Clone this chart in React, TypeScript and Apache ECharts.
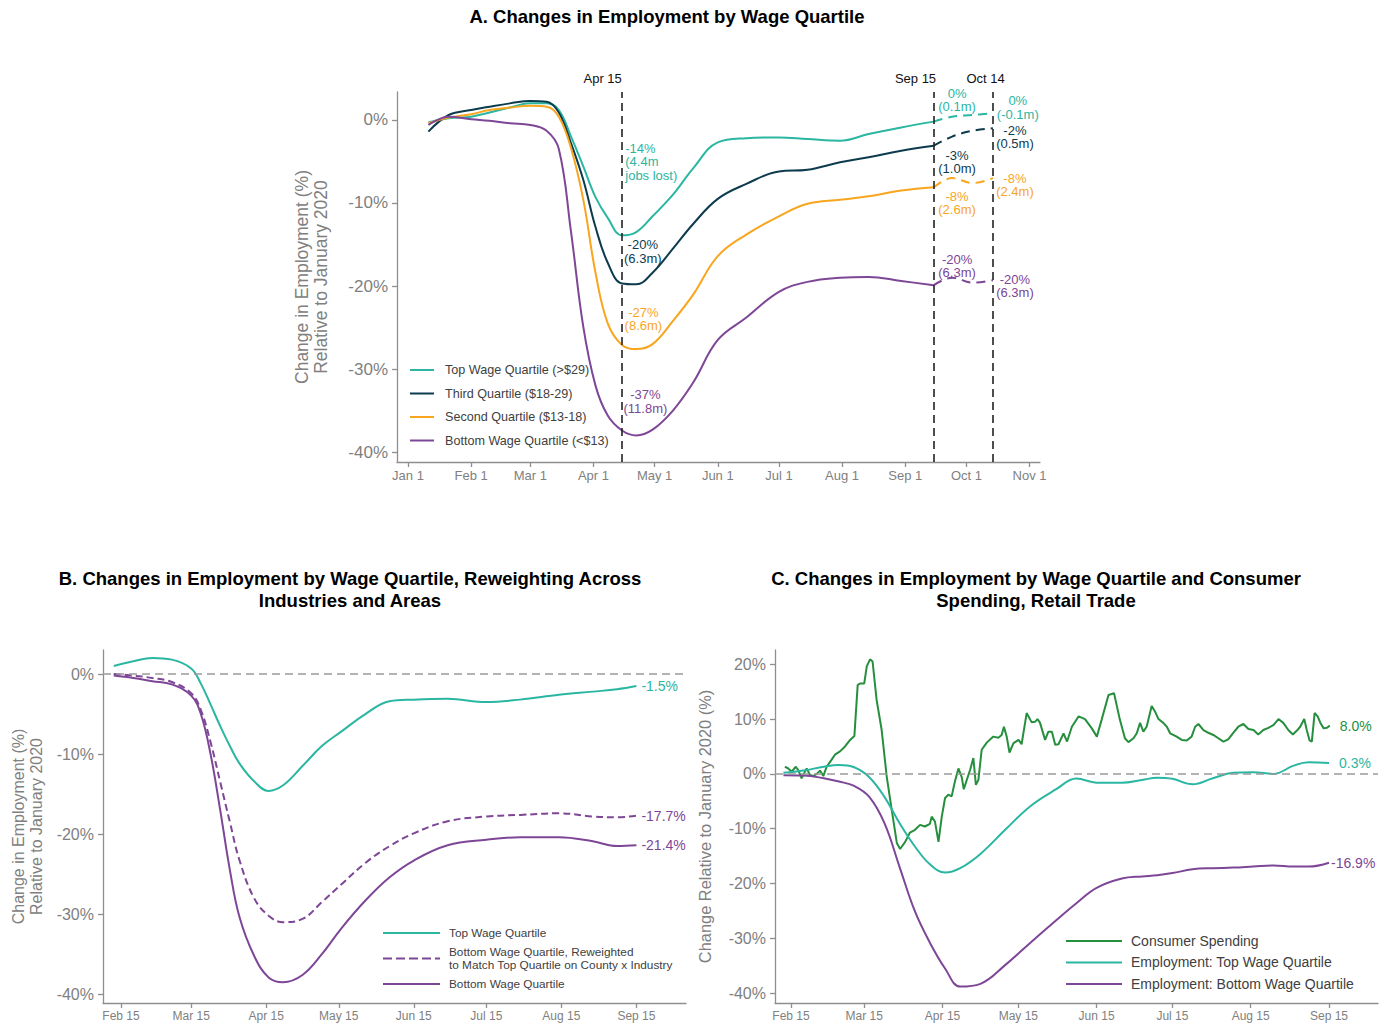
import React, { useEffect, useRef } from "react";
import * as echarts from "echarts";

const FONT = '"Liberation Sans", Arial, Helvetica, sans-serif';
const AXIS_GRAY = "#8f8f8f";
const LABEL_GRAY = "#808080";
const TEAL = "#2bb6a1";
const NAVY = "#0d3b4e";
const ORANGE = "#f9a51e";
const PURPLE = "#7d4696";
const GREEN = "#268f3e";

// ---------- Panel A (days since Jan 1 2020) ----------
const monthTicksA = [0, 31, 60, 91, 121, 152, 182, 213, 244, 274, 305];
const monthLabelsA = ["Jan 1", "Feb 1", "Mar 1", "Apr 1", "May 1", "Jun 1", "Jul 1", "Aug 1", "Sep 1", "Oct 1", "Nov 1"];
const yTicksA = [-40, -30, -20, -10, 0];

const daysA = [10, 20, 31, 40, 50, 60, 68, 74, 80, 86, 92, 98, 105, 112, 120, 130, 140, 152, 166, 182, 196, 212, 226, 242, 258];
const topA = [-0.3, 0.2, 0.4, 0.9, 1.5, 2.0, 2.0, 1.2, -2.0, -5.6, -9.3, -11.8, -13.9, -13.5, -11.6, -9.0, -5.8, -2.7, -2.2, -2.1, -2.3, -2.5, -1.7, -0.9, -0.2];
const thirdA = [-1.4, 0.6, 1.2, 1.6, 2.0, 2.3, 2.2, 0.9, -2.8, -7.2, -12.9, -17.2, -19.7, -19.8, -18.4, -15.5, -12.5, -9.5, -7.7, -6.2, -6.0, -5.1, -4.5, -3.7, -3.1];
const secondA = [-0.4, 0.3, 0.7, 1.2, 1.5, 1.7, 1.6, 0.4, -3.4, -9.6, -18.4, -24.5, -27.1, -27.6, -27.0, -24.2, -21.0, -16.4, -13.8, -11.6, -10.1, -9.6, -9.2, -8.5, -8.1];
const bottomA = [-0.6, 0.4, 0.1, -0.1, -0.4, -0.6, -1.3, -3.5, -13.5, -24.9, -32.0, -35.6, -37.4, -38.0, -37.3, -35.0, -31.6, -26.5, -23.8, -20.7, -19.5, -19.0, -18.9, -19.4, -19.9];

const projDaysA = [258, 267, 277, 287];
const topProjA = [-0.2, 0.4, 0.6, 0.8];
const thirdProjA = [-3.1, -2.0, -1.3, -1.0];
const secondProjA = [-8.1, -7.0, -7.6, -7.0];
const bottomProjA = [-19.9, -19.0, -19.6, -19.3];

const namesA = ["Top Wage Quartile (>$29)", "Third Quartile ($18-29)", "Second Quartile ($13-18)", "Bottom Wage Quartile (<$13)"];

const eventDaysA = [105, 258, 287];
const eventLabelsA = ["Apr 15", "Sep 15", "Oct 14"];
const eventLabelDaysA = [95.5, 249, 283.4];

// annotations: [day, value (top of text), text, color, align]
const annotationsA: [number, number, string, string, string][] = [
  [106.6, -2.65, "-14%\n(4.4m\njobs lost)", TEAL, "left"],
  [115.2, -14.25, "-20%\n(6.3m)", NAVY, "center"],
  [115.5, -22.4, "-27%\n(8.6m)", ORANGE, "center"],
  [116.5, -32.3, "-37%\n(11.8m)", PURPLE, "center"],
  [269.4, 4.0, "0%\n(0.1m)", TEAL, "center"],
  [269.4, -3.43, "-3%\n(1.0m)", NAVY, "center"],
  [269.4, -8.37, "-8%\n(2.6m)", ORANGE, "center"],
  [269.4, -15.96, "-20%\n(6.3m)", PURPLE, "center"],
  [299.2, 3.1, "0%\n(-0.1m)", TEAL, "center"],
  [297.8, -0.42, "-2%\n(0.5m)", NAVY, "center"],
  [297.8, -6.27, "-8%\n(2.4m)", ORANGE, "center"],
  [297.8, -18.4, "-20%\n(6.3m)", PURPLE, "center"],
];

// ---------- Panel B ----------
const midTicks = [45, 74, 105, 135, 166, 196, 227, 258];
const midLabels = ["Feb 15", "Mar 15", "Apr 15", "May 15", "Jun 15", "Jul 15", "Aug 15", "Sep 15"];
const yTicksB = [-40, -30, -20, -10, 0];

const daysB = [42, 50, 58, 66, 74, 78, 82, 86, 90, 94, 100, 106, 112, 120, 128, 136, 146, 156, 166, 180, 196, 210, 226, 240, 250, 258];
const topB = [1.0, 1.6, 2.0, 1.8, 0.7, -1.2, -3.8, -6.5, -9.0, -11.2, -13.4, -14.6, -13.9, -11.5, -9.0, -7.2, -5.0, -3.4, -3.2, -3.1, -3.5, -3.2, -2.6, -2.2, -1.9, -1.5];
const reweightedB = [0.0, -0.2, -0.5, -1.0, -2.4, -4.5, -8.5, -13.5, -18.5, -23.3, -28.0, -30.2, -31.0, -30.6, -28.5, -26.3, -23.6, -21.5, -19.9, -18.4, -17.8, -17.6, -17.4, -17.8, -17.9, -17.7];
const bottomB = [-0.2, -0.5, -0.9, -1.3, -2.7, -5.0, -10.0, -17.0, -24.5, -30.4, -35.2, -37.9, -38.5, -37.6, -35.0, -31.8, -28.3, -25.4, -23.3, -21.4, -20.7, -20.4, -20.4, -20.9, -21.5, -21.4];
const namesB = ["Top Wage Quartile", "Bottom Wage Quartile, Reweighted\nto Match Top Quartile on County x Industry", "Bottom Wage Quartile"];
const endLabelsB = ["-1.5%", "-17.7%", "-21.4%"];

// ---------- Panel C ----------
const yTicksC = [-40, -30, -20, -10, 0, 10, 20];
const daysC = [42, 50, 58, 64, 70, 76, 82, 88, 94, 100, 106, 112, 120, 130, 140, 150, 158, 166, 176, 184, 190, 196, 204, 212, 220, 228, 236, 244, 250, 258];
const topC = [0.2, 0.6, 1.3, 1.6, 1.2, -0.6, -4.2, -9.0, -13.2, -16.5, -18.0, -17.2, -14.6, -10.1, -5.8, -2.8, -0.85, -1.6, -1.6, -1.1, -0.7, -0.9, -1.9, -0.8, 0.2, 0.3, 0.0, 1.5, 2.1, 2.0];
const bottomC = [-0.25, -0.3, -0.8, -1.4, -2.2, -4.2, -9.0, -17.0, -25.0, -30.8, -35.5, -38.8, -38.3, -34.8, -30.7, -26.7, -23.6, -20.8, -19.1, -18.7, -18.5, -18.1, -17.4, -17.2, -17.1, -16.9, -16.7, -16.9, -16.9, -16.2];
const spendDays = [42.6, 43.9, 45.3, 46.9, 47.9, 49.2, 51.2, 52.5, 53.8, 55.2, 56.5, 57.8, 59.1, 61.1, 62.4, 64.4, 66.4, 68.4, 70.1, 71.4, 72.3, 74.0, 75.0, 76.3, 77.3, 78.9, 80.9, 82.9, 84.9, 86.9, 88.2, 90.2, 92.1, 94.1, 96.1, 98.0, 100.0, 100.7, 102.0, 103.4, 104.7, 106.0, 107.3, 108.6, 109.9, 111.3, 112.6, 113.4, 114.6, 115.9, 117.2, 118.2, 119.2, 120.5, 122.5, 125.1, 127.1, 128.4, 129.3, 130.4, 131.5, 133.1, 135.1, 136.3, 138.3, 140.3, 141.6, 142.6, 143.6, 145.6, 146.9, 148.3, 149.6, 150.9, 152.9, 154.3, 156.2, 158.9, 161.4, 164.1, 166.1, 168.0, 170.7, 172.9, 175.2, 177.2, 178.6, 180.6, 181.9, 183.2, 184.5, 185.8, 187.8, 189.1, 190.5, 192.4, 193.8, 195.1, 197.7, 199.7, 201.7, 203.6, 205.0, 206.3, 208.3, 210.2, 212.2, 214.2, 216.2, 218.1, 220.1, 222.1, 224.1, 226.1, 228.1, 230.0, 232.0, 234.0, 236.0, 238.0, 239.9, 241.9, 243.7, 245.3, 246.6, 248.2, 249.2, 250.3, 251.2, 252.3, 253.5, 254.6, 255.9, 257.2, 258.3];
const spendValues = [1.3, 1.0, 0.4, 1.3, 0.7, -0.8, 1.0, -0.2, -0.4, 0.0, 0.6, -0.4, 1.3, 2.6, 3.5, 4.1, 5.0, 6.2, 6.9, 16.2, 16.5, 16.5, 19.6, 20.9, 20.5, 13.5, 8.0, -0.5, -6.6, -12.6, -13.7, -12.4, -10.7, -10.2, -9.3, -9.6, -9.1, -7.8, -8.7, -12.4, -7.8, -4.4, -3.8, -4.1, -1.4, 1.0, -0.6, -2.8, -1.1, 0.7, 2.9, -2.0, -1.1, 4.4, 5.7, 6.8, 6.6, 7.1, 8.6, 6.8, 3.9, 5.6, 6.2, 5.4, 11.1, 9.4, 9.5, 10.0, 9.3, 6.2, 7.7, 7.7, 5.3, 5.4, 7.4, 5.9, 8.6, 10.5, 10.0, 8.3, 6.8, 9.9, 14.4, 14.7, 9.9, 6.5, 5.8, 6.5, 7.4, 9.3, 7.7, 8.6, 12.4, 11.4, 10.0, 9.3, 8.6, 7.4, 6.8, 6.2, 6.1, 6.8, 8.6, 9.1, 8.0, 7.5, 7.1, 6.5, 5.9, 6.3, 7.5, 8.6, 9.1, 8.2, 8.0, 7.2, 8.0, 8.4, 8.9, 10.0, 9.3, 8.0, 7.2, 7.9, 8.6, 10.0, 8.0, 6.1, 5.9, 11.1, 10.5, 9.3, 8.3, 8.4, 8.8];
const namesC = ["Consumer Spending", "Employment: Top Wage Quartile", "Employment: Bottom Wage Quartile"];
const endLabelsC = ["8.0%", "0.3%", "-16.9%"];

// legend key shapes (solid / dashed line) matching each legend's item width
const solidKey = (w: number) => `path://M0,0H${w}V2H0Z`;
const DASHED_KEY = "path://M0,0H9V2H0Z M13,0H22V2H13Z M26,0H35V2H26Z M39,0H48V2H39Z M52,0H57V2H52Z";

const pairs = (xs: number[], ys: number[]) => xs.map((x, i) => [x, ys[i]]);
const pickLabel = (ticks: number[], labels: string[]) => (v: number) => {
  const i = ticks.findIndex((t) => Math.abs(t - v) < 0.01);
  return i >= 0 ? labels[i] : "";
};

function xAxis(gridIndex: number, min: number, max: number, ticks: number[], labels: string[], fontSize: number) {
  return {
    type: "value",
    gridIndex,
    min,
    max,
    axisLine: { show: true, onZero: false, lineStyle: { color: AXIS_GRAY, width: 1.3 } },
    axisTick: { show: true, customValues: ticks, length: 5, lineStyle: { color: AXIS_GRAY, width: 1.3 } },
    axisLabel: { customValues: ticks, formatter: pickLabel(ticks, labels), color: LABEL_GRAY, fontSize, fontFamily: FONT, margin: 7 },
    splitLine: { show: false },
  };
}

function yAxis(gridIndex: number, min: number, max: number, ticks: number[], name: string, nameGap: number, fontSize: number, nameSize: number) {
  return {
    type: "value",
    gridIndex,
    min,
    max,
    name,
    nameLocation: "middle",
    nameGap,
    nameTextStyle: { fontSize: nameSize, color: LABEL_GRAY, fontFamily: FONT, lineHeight: nameSize + 1.5 },
    axisLine: { show: true, onZero: false, lineStyle: { color: AXIS_GRAY, width: 1.3 } },
    axisTick: { show: true, customValues: ticks, length: 5, lineStyle: { color: AXIS_GRAY, width: 1.3 } },
    axisLabel: { customValues: ticks, formatter: (v: number) => `${Math.round(v)}%`, color: LABEL_GRAY, fontSize, fontFamily: FONT, margin: 9 },
    splitLine: { show: false },
  };
}

function lineSeries(name: string, axis: number, data: number[][], color: string, extra: any = {}) {
  return {
    type: "line",
    name,
    xAxisIndex: axis,
    yAxisIndex: axis,
    data,
    symbol: "none",
    smooth: 0.4,
    lineStyle: { color, width: 2 },
    itemStyle: { color },
    ...extra,
  };
}

const zeroLine = {
  silent: true,
  symbol: "none",
  label: { show: false },
  lineStyle: { color: "#9a9a9a", type: [8, 5], width: 1.5 },
  data: [{ yAxis: 0 }],
};

function endLabel(text: string, color: string, distance: number) {
  return { show: true, formatter: () => text, color, fontSize: 14, fontFamily: FONT, distance };
}

export default function App() {
  const ref = useRef<HTMLDivElement>(null);
  useEffect(() => {
    if (!ref.current) return;
    const chart = echarts.init(ref.current, undefined, { renderer: "svg" });
    const option: any = {
      animation: false,
      textStyle: { fontFamily: FONT },
      grid: [
        { left: 397, top: 92, width: 643, height: 370 },
        { left: 103, top: 650, width: 583, height: 353 },
        { left: 775, top: 650, width: 603, height: 353 },
      ],
      xAxis: [
        xAxis(0, -5.4, 310.1, monthTicksA, monthLabelsA, 13),
        xAxis(1, 37.56, 278.5, midTicks, midLabels, 12),
        xAxis(2, 38.67, 277.4, midTicks, midLabels, 12),
      ],
      yAxis: [
        yAxis(0, -41.2, 3.37, yTicksA, "Change in Employment (%)\nRelative to January 2020", 67, 17, 17.5),
        yAxis(1, -41.1, 3.0, yTicksB, "Change in Employment (%)\nRelative to January 2020", 58, 16, 16),
        yAxis(2, -41.8, 22.6, yTicksC, "Change Relative to January 2020 (%)", 61, 16, 16.4),
      ],
      legend: [
        {
          data: namesA.map((n) => ({ name: n, icon: solidKey(24) })),
          left: 410, top: 363, padding: 0, orient: "vertical", itemWidth: 24, itemHeight: 2, itemGap: 9.5,
          textStyle: { fontSize: 12.6, lineHeight: 14, color: "#404040", fontFamily: FONT, padding: [0, 0, 0, 6] },
        },
        {
          data: namesB.map((n, i) => ({ name: n, icon: i === 1 ? DASHED_KEY : solidKey(57) })),
          left: 383, top: 926.7, padding: 0, orient: "vertical", itemWidth: 57, itemHeight: 2, itemGap: 6.8,
          textStyle: { fontSize: 11.8, color: "#404040", fontFamily: FONT, lineHeight: 12.5, padding: [0, 0, 0, 4] },
        },
        {
          data: namesC.map((n) => ({ name: n, icon: solidKey(56) })),
          left: 1066, top: 933.2, padding: 0, orient: "vertical", itemWidth: 56, itemHeight: 2, itemGap: 6,
          textStyle: { fontSize: 14, lineHeight: 15.5, color: "#404040", fontFamily: FONT, padding: [0, 0, 0, 4] },
        },
      ],
      series: [
        lineSeries(namesA[0], 0, pairs(daysA, topA), TEAL, {
          markLine: {
            silent: true,
            symbol: "none",
            label: { show: false },
            lineStyle: { color: "#222222", type: [8, 5], width: 1.6 },
            data: eventDaysA.map((d) => ({ xAxis: d })),
          },
        }),
        lineSeries(namesA[1], 0, pairs(daysA, thirdA), NAVY),
        lineSeries(namesA[2], 0, pairs(daysA, secondA), ORANGE),
        lineSeries(namesA[3], 0, pairs(daysA, bottomA), PURPLE),
        lineSeries(namesA[0] + " projected", 0, pairs(projDaysA, topProjA), TEAL, { lineStyle: { color: TEAL, width: 2, type: [9, 6] } }),
        lineSeries(namesA[1] + " projected", 0, pairs(projDaysA, thirdProjA), NAVY, { lineStyle: { color: NAVY, width: 2, type: [9, 6] } }),
        lineSeries(namesA[2] + " projected", 0, pairs(projDaysA, secondProjA), ORANGE, { lineStyle: { color: ORANGE, width: 2, type: [9, 6] } }),
        lineSeries(namesA[3] + " projected", 0, pairs(projDaysA, bottomProjA), PURPLE, { lineStyle: { color: PURPLE, width: 2, type: [9, 6] } }),

        lineSeries(namesB[0], 1, pairs(daysB, topB), TEAL, { markLine: zeroLine, endLabel: endLabel(endLabelsB[0], TEAL, 5), z: 3 }),
        lineSeries(namesB[1], 1, pairs(daysB, reweightedB), PURPLE, {
          lineStyle: { color: PURPLE, width: 2, type: [7, 4] },
          endLabel: endLabel(endLabelsB[1], PURPLE, 5),
        }),
        lineSeries(namesB[2], 1, pairs(daysB, bottomB), PURPLE, { endLabel: endLabel(endLabelsB[2], PURPLE, 5) }),

        lineSeries(namesC[0], 2, pairs(spendDays, spendValues), GREEN, {
          smooth: false,
          markLine: zeroLine,
          endLabel: endLabel(endLabelsC[0], GREEN, 10),
        }),
        lineSeries(namesC[1], 2, pairs(daysC, topC), TEAL, { endLabel: endLabel(endLabelsC[1], TEAL, 10) }),
        lineSeries(namesC[2], 2, pairs(daysC, bottomC), PURPLE, { endLabel: endLabel(endLabelsC[2], PURPLE, 2) }),
      ],
    };
    chart.setOption(option);

    const toPx = (d: number, v: number) => chart.convertToPixel({ xAxisIndex: 0, yAxisIndex: 0 }, [d, v]) as number[];
    const graphics: any[] = [];
    const title = (x: number, y: number, text: string) => ({
      type: "text",
      x,
      y,
      silent: true,
      style: {
        text,
        fill: "#000",
        font: `bold 18.5px ${FONT}`,
        textAlign: "center",
        align: "center",
        textVerticalAlign: "top",
        verticalAlign: "top",
        lineHeight: 22,
      },
    });
    graphics.push(title(667, 5, "A. Changes in Employment by Wage Quartile"));
    graphics.push(title(350, 567, "B. Changes in Employment by Wage Quartile, Reweighting Across\nIndustries and Areas"));
    graphics.push(title(1036, 567, "C. Changes in Employment by Wage Quartile and Consumer\nSpending, Retail Trade"));

    eventLabelDaysA.forEach((d, i) => {
      const [px] = toPx(d, 0);
      graphics.push({
        type: "text",
        x: px,
        y: 85,
        silent: true,
        style: { text: eventLabelsA[i], fill: "#111", font: `13px ${FONT}`, textAlign: "center", align: "center", textVerticalAlign: "bottom", verticalAlign: "bottom" },
      });
    });
    annotationsA.forEach(([d, v, text, color, align]) => {
      const [px, py] = toPx(d, v);
      graphics.push({
        type: "text",
        x: px,
        y: py,
        silent: true,
        style: { text, fill: color, font: `13px ${FONT}`, lineHeight: 13.3, textAlign: align, align, textVerticalAlign: "top", verticalAlign: "top" },
      });
    });
    chart.setOption({ graphic: graphics });

    return () => chart.dispose();
  }, []);
  return <div ref={ref} style={{ position: "absolute", left: 0, top: 0, width: 1390, height: 1025, background: "#fff" }} />;
}
